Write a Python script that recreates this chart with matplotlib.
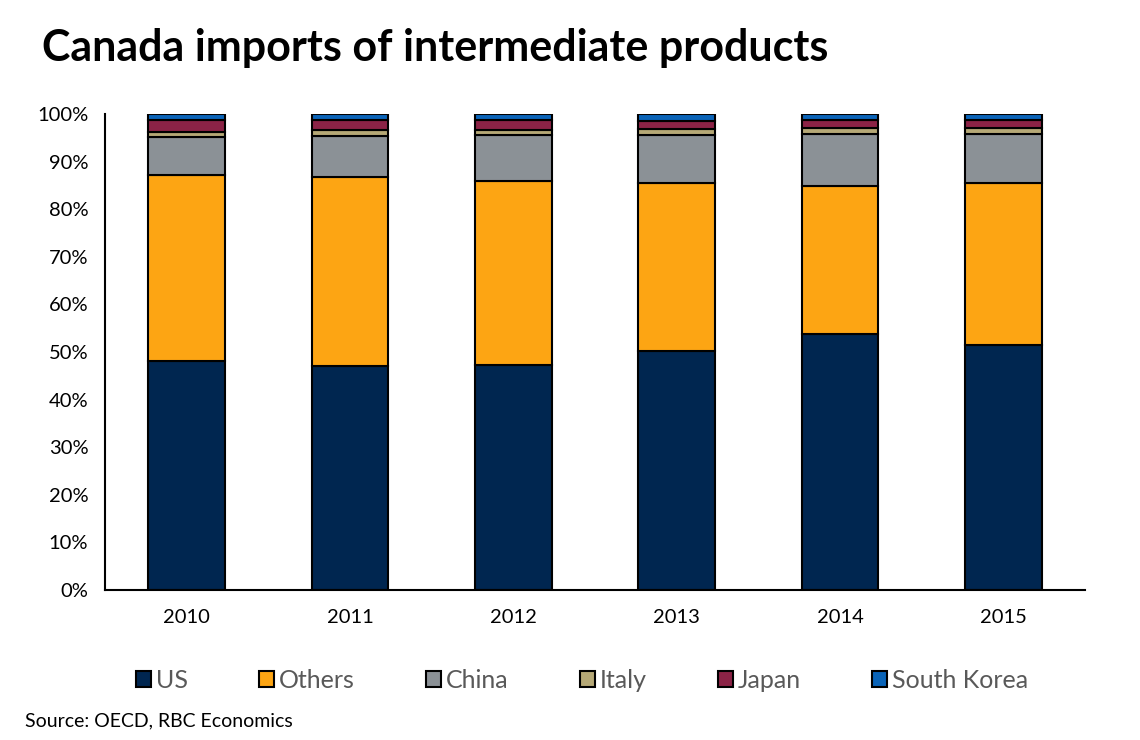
import matplotlib
matplotlib.use("Agg")
import matplotlib.pyplot as plt
import numpy as np

years = ["2010", "2011", "2012", "2013", "2014", "2015"]
series_names = ["US", "Others", "China", "Italy", "Japan", "South Korea"]
us = [48.1, 47.1, 47.3, 50.2, 53.8, 51.5]
others = [39.1, 39.7, 38.6, 35.3, 31.1, 34.0]
china = [8.0, 8.6, 9.7, 10.1, 11.0, 10.4]
italy = [1.0, 1.2, 1.0, 1.2, 1.2, 1.2]
japan = [2.5, 2.1, 2.1, 1.7, 1.6, 1.6]
south_korea = [1.3, 1.3, 1.3, 1.5, 1.3, 1.3]
colors = ["#002650", "#FDA513", "#8B9196", "#B5A876", "#8B2346", "#0A64B8"]

plt.rcParams['font.family'] = ['Lato', 'DejaVu Sans']

fig = plt.figure(figsize=(11.4, 7.4), dpi=100)
ax = fig.add_axes([105/1140, 150/740, 980/1140, 476/740])

data = [us, others, china, italy, japan, south_korea]
x = np.arange(len(years))
bottom = np.zeros(len(years))
handles = []
for name, vals, c in zip(series_names, data, colors):
    b = ax.bar(x, vals, width=0.47, bottom=bottom, color=c, edgecolor="black",
               linewidth=1.5, label=name)
    handles.append(b)
    bottom += np.array(vals)

ax.set_xlim(-0.5, len(years) - 0.5)
ax.set_ylim(0, 100)
ax.set_yticks(np.arange(0, 101, 10))
ax.set_yticklabels([f"{v}%" for v in range(0, 101, 10)])
ax.set_xticks(x)
ax.set_xticklabels(years)
ax.tick_params(axis="both", length=0, labelsize=14.5, colors="black")
ax.tick_params(axis="x", pad=14)
ax.tick_params(axis="y", pad=12)
for s in ["top", "right"]:
    ax.spines[s].set_visible(False)
for s in ["left", "bottom"]:
    ax.spines[s].set_linewidth(1.5)
    ax.spines[s].set_color("black")

fig.text(42/1140, 1 - 48/740, "Canada imports of intermediate products",
         fontsize=31, fontweight="bold", va="center", ha="left")
fig.text(25/1140, 1 - 721/740, "Source: OECD, RBC Economics",
         fontsize=14, va="center", ha="left")

leg = fig.legend(handles=handles, labels=series_names, loc="center",
                 bbox_to_anchor=(582/1140, 1 - 680/740), ncol=6, frameon=False,
                 fontsize=18, handlelength=0.6, handleheight=0.6,
                 handletextpad=0.2, columnspacing=2.85, labelcolor="#595959")

fig.savefig("out.png", dpi=100)
